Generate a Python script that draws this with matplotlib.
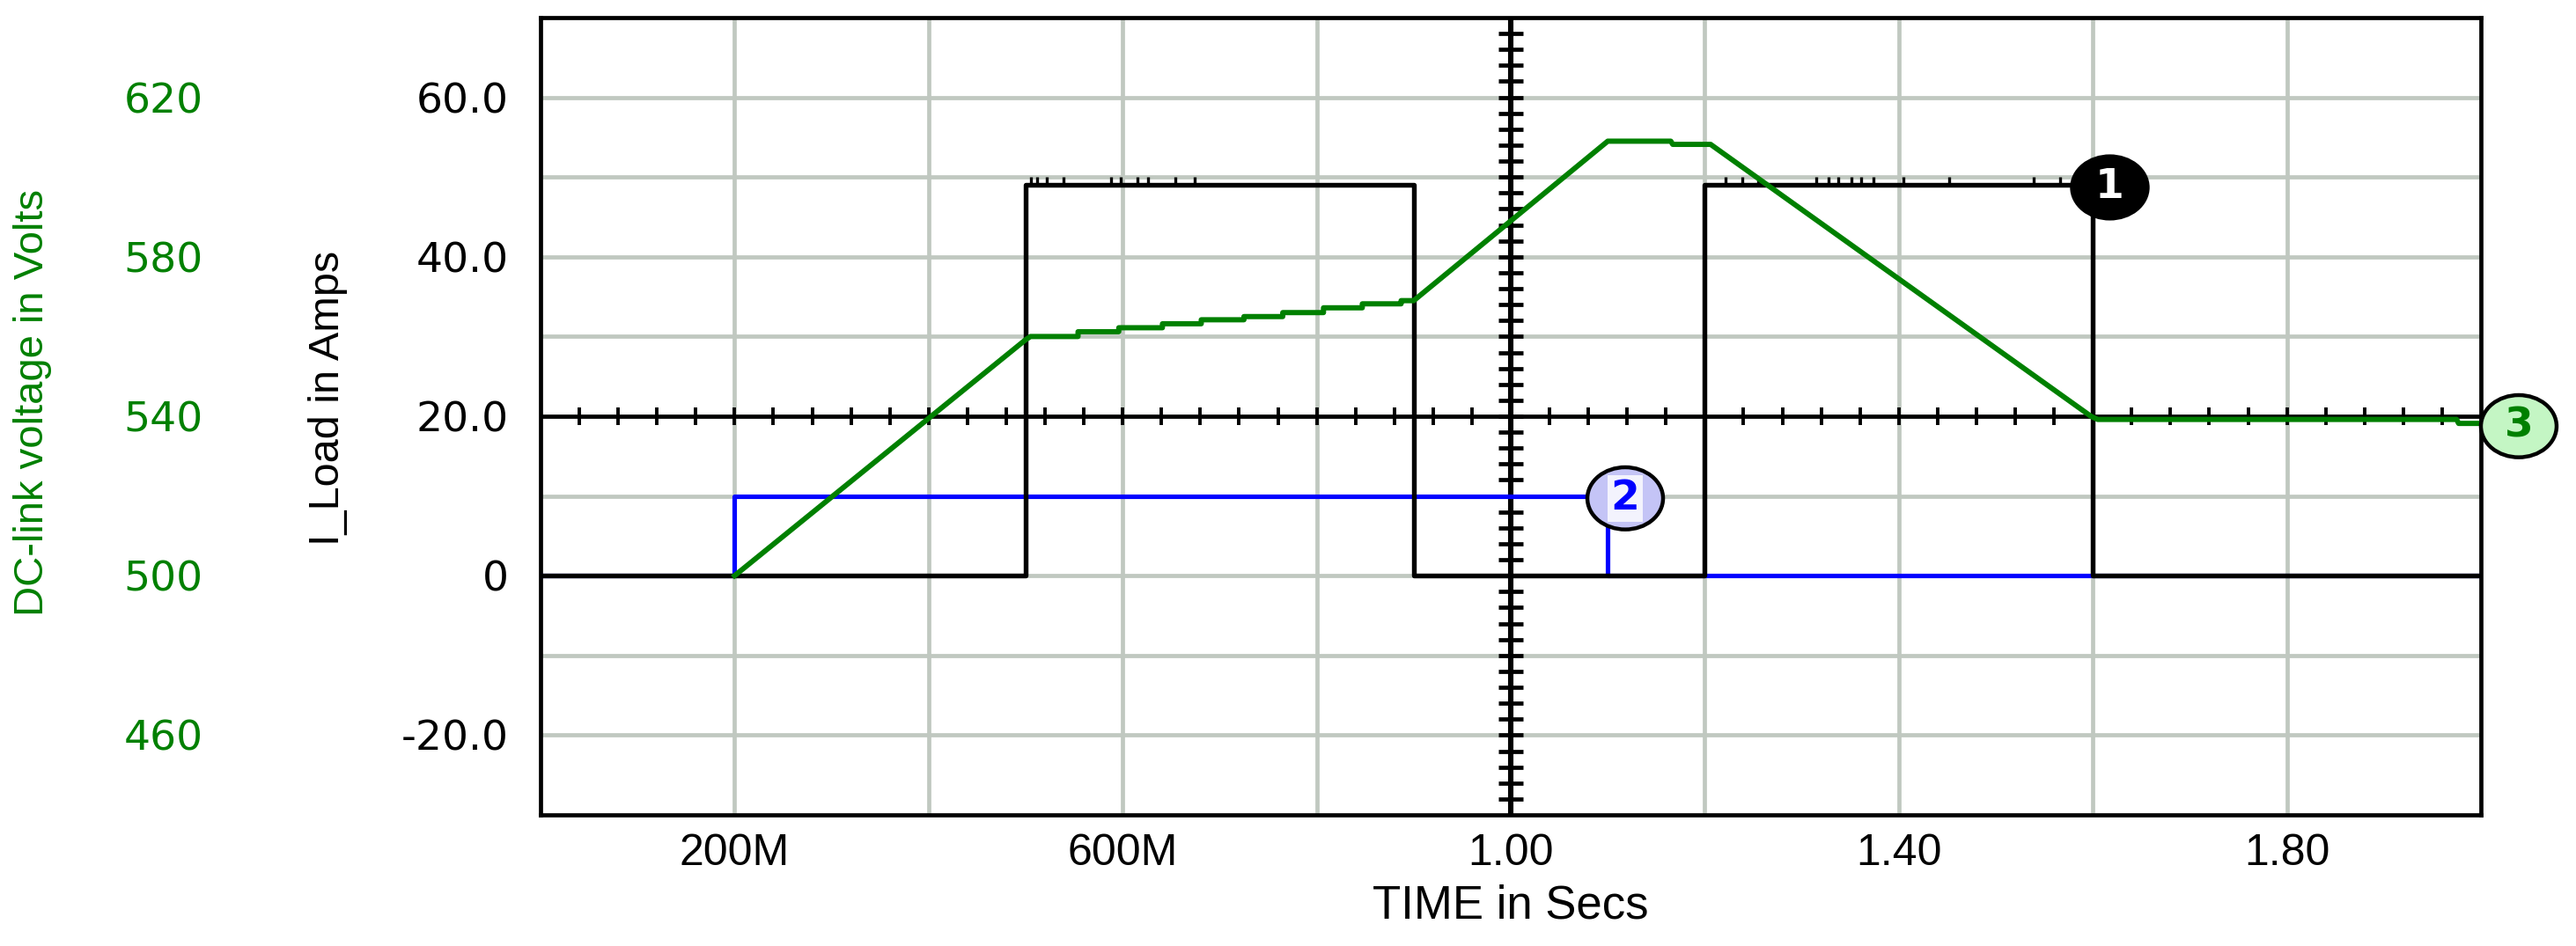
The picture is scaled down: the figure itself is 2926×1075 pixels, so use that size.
import numpy as np
import matplotlib.pyplot as plt
from matplotlib.patches import Ellipse

plt.rcParams['font.family'] = ['Liberation Sans', 'DejaVu Sans']

W, H = 2926, 1075

# trace 1: I_Load in Amps
load_t = [0.0, 0.5, 0.5, 0.9, 0.9, 1.2, 1.2, 1.6, 1.6, 2.0]
load_a = [0, 0, 49, 49, 0, 0, 49, 49, 0, 0]
# little glitches sitting on top of the load plateaus
spike_t = [0.505, 0.512, 0.522, 0.539, 0.588, 0.598, 0.615, 0.626, 0.654, 0.674,
           1.221, 1.239, 1.255, 1.315, 1.328, 1.338, 1.351, 1.361, 1.374, 1.405,
           1.452, 1.539, 1.566]

# trace 2: reference current
ref_t = [0.0, 0.2, 0.2, 1.1, 1.1, 2.0]
ref_a = [0, 0, 10, 10, 0, 0]

# trace 3: DC-link voltage
vdc_t = [0.2, 0.5, 0.505, 0.554, 0.554, 0.596, 0.596, 0.641, 0.641, 0.681, 0.681,
         0.725, 0.725, 0.765, 0.765, 0.807, 0.807, 0.847, 0.847, 0.887, 0.887, 0.9,
         1.1, 1.165, 1.167, 1.206, 1.598, 1.605, 1.975, 1.977, 2.0]
vdc_v = [500, 559.2, 560.0, 560.0, 561.2, 561.2, 562.2, 562.2, 563.2, 563.2, 564.2,
         564.2, 565.0, 565.0, 566.0, 566.0, 567.2, 567.2, 568.2, 568.2, 569.0, 569.0,
         609.0, 609.0, 608.2, 608.2, 540.0, 539.2, 539.2, 538.2, 538.2]

x_ticks = [0.2, 0.6, 1.0, 1.4, 1.8]
x_labels = ['200M', '600M', '1.00', '1.40', '1.80']
i_ticks = [-20, 0, 20, 40, 60]
i_labels = ['-20.0', '0', '20.0', '40.0', '60.0']
v_ticks = [460, 500, 540, 580, 620]

# trace markers: (label, t, amps, face, text colour)
tags = [('1', 1.6175, 48.7, 'black', 'white'),
        ('2', 1.118, 9.7, '#c4c4f6', '#0000ff'),
        ('3', 2.039, 18.75, '#c4f6c4', '#008000')]

green = '#008000'

fig = plt.figure(figsize=(W / 100, H / 100), dpi=100)
ax = fig.add_axes([614 / W, 1 - 926 / H, 2204 / W, 906 / H])
ax.set_xlim(0, 2.0)
ax.set_ylim(-30, 70)

ax.set_xticks(x_ticks, x_labels)
ax.set_xticks([0.4, 0.8, 1.2, 1.6], minor=True)
ax.set_yticks(i_ticks, i_labels)
ax.set_yticks([-10, 10, 30, 50], minor=True)
ax.set_axisbelow(True)
ax.grid(True, which='both', color='#c0c8c0', lw=3.4)
ax.tick_params(which='both', length=0)
ax.tick_params(axis='y', pad=26, labelsize=34)
ax.tick_params(axis='x', pad=15, labelsize=36)
for lbl in ax.get_yticklabels():
    lbl.set_family('DejaVu Sans')
for s in ax.spines.values():
    s.set_linewidth(3.4)

# crosshair axes with tick marks
ax.axhline(20, color='k', lw=3.4, zorder=3)
ax.axvline(1.0, color='k', lw=4.4, zorder=3)
ax.plot(np.linspace(0.04, 1.96, 49), np.full(49, 20), ls='none', marker='|',
        ms=14.5, mew=2.8, color='k', zorder=3)
ax.plot(np.full(49, 1.0), np.linspace(-28, 68, 49), ls='none', marker='_',
        ms=19.5, mew=3.4, color='k', zorder=3)

ax.plot(ref_t, ref_a, color='#0000ff', lw=3.7, zorder=4)
ax.plot(load_t, load_a, color='k', lw=3.9, zorder=5)
ax.vlines(spike_t, 49, 50.0, color='k', lw=2.4, zorder=5)

ax2 = ax.twinx()
ax2.set_ylim(440, 640)
ax2.yaxis.tick_left()
ax2.set_yticks(v_ticks)
ax2.tick_params(axis='y', length=0, pad=276, labelsize=34, labelcolor=green)
for lbl in ax2.get_yticklabels():
    lbl.set_family('DejaVu Sans')
for s in ax2.spines.values():
    s.set_visible(False)
ax2.plot(vdc_t, vdc_v, color=green, lw=4.3)

for lab, tx, ty, face, tc in tags:
    ax2.add_patch(Ellipse((tx, ty), 0.078, 7.8, transform=ax.transData,
                          facecolor=face, edgecolor='k', lw=3.2, clip_on=False, zorder=10))
    box = dict(boxstyle='square,pad=0.08', fc='white', ec='none', alpha=0.8) if lab == '2' else None
    ax2.text(tx, ty, lab, transform=ax.transData, ha='center', va='center',
             fontsize=34, fontweight='bold', family='DejaVu Sans', color=tc,
             zorder=11, clip_on=False, bbox=box)

fig.text(372 / W, 1 - 452 / H, 'I_Load in Amps', rotation=90, ha='center',
         va='center', fontsize=35)
fig.text(37 / W, 1 - 457 / H, 'DC-link voltage in Volts', rotation=90, ha='center',
         va='center', fontsize=34, color=green)
fig.text(1716 / W, 1 - 1030 / H, 'TIME in Secs', ha='center', va='center', fontsize=38)

fig.savefig('out.png', dpi=100)
